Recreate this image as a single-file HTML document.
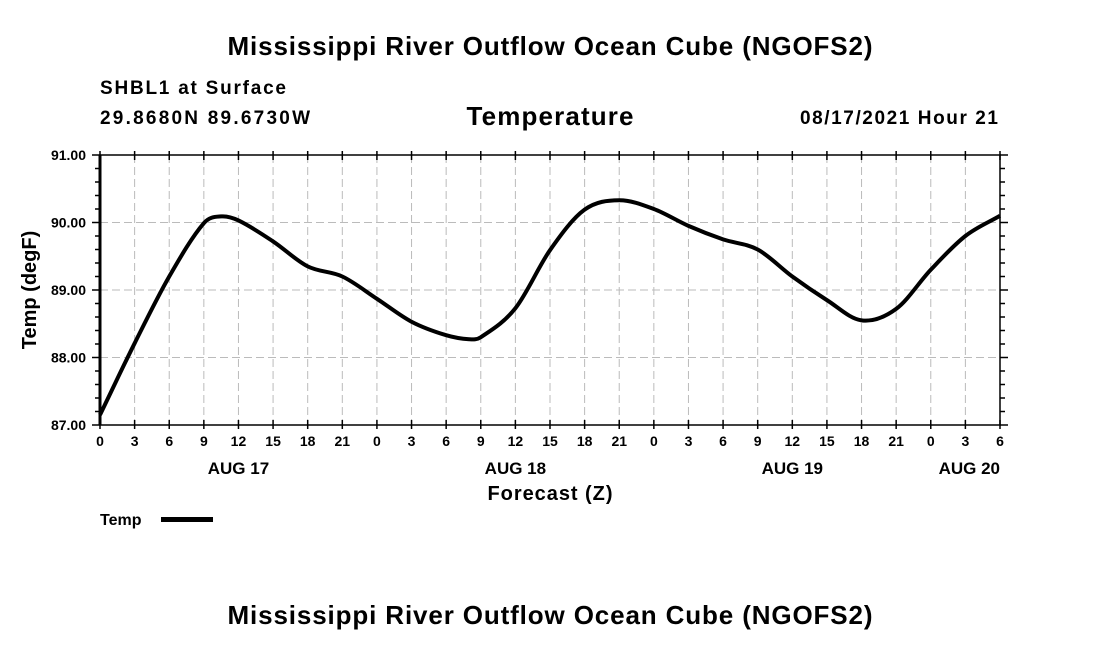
<!DOCTYPE html>
<html><head><meta charset="utf-8"><style>
body{margin:0;background:#fff;}
svg text{font-family:"Liberation Sans",Arial,sans-serif;fill:#000;font-weight:bold;}
</style></head><body>
<svg width="1100" height="650" viewBox="0 0 1100 650">
<text x="550" y="55" text-anchor="middle" font-size="26" textLength="645">Mississippi River Outflow Ocean Cube (NGOFS2)</text>
<text x="100" y="94" font-size="19" textLength="186">SHBL1 at Surface</text>
<text x="100" y="124" font-size="19" textLength="210">29.8680N  89.6730W</text>
<text x="550" y="125" text-anchor="middle" font-size="26" textLength="167">Temperature</text>
<text x="998" y="124" text-anchor="end" font-size="19" textLength="198">08/17/2021 Hour 21</text>
<g id="grid"></g>
<g id="axes"></g>
<path id="line" fill="none" stroke="#000" stroke-width="4" stroke-linejoin="round"/>
<text transform="translate(36,290) rotate(-90)" text-anchor="middle" font-size="20">Temp (degF)</text>
<text x="550" y="500" text-anchor="middle" font-size="20" textLength="125">Forecast (Z)</text>
<text x="100" y="525" font-size="16">Temp</text>
<rect x="161" y="517" width="52" height="5" fill="#000"/>
<text x="550" y="624" text-anchor="middle" font-size="26" textLength="645">Mississippi River Outflow Ocean Cube (NGOFS2)</text>
</svg>
<script>
const hours=[0,3,6,9,10.5,12,15,18,21,24,27,30,32,33,36,39,42,45,48,51,54,57,60,63,66,69,72,75,78];
const temps=[87.15,88.21,89.2,89.99,90.09,90.03,89.72,89.35,89.2,88.87,88.53,88.33,88.27,88.3,88.73,89.59,90.19,90.33,90.2,89.95,89.75,89.6,89.2,88.85,88.55,88.72,89.3,89.8,90.1];
const yTicks=[87,88,89,90,91];
const yTickLabels=["87.00","88.00","89.00","90.00","91.00"];
const xTickLabels=["0","3","6","9","12","15","18","21","0","3","6","9","12","15","18","21","0","3","6","9","12","15","18","21","0","3","6"];
const dayLabels=["AUG 17","AUG 18","AUG 19","AUG 20"];
const dayHours=[12,36,60,78];
const L=100,R=1000,T=155,B=425,H0=0,H1=78,Y0=87,Y1=91;
const sx=h=>L+(h-H0)/(H1-H0)*(R-L);
const sy=v=>B-(v-Y0)/(Y1-Y0)*(B-T);
const NS="http://www.w3.org/2000/svg";
const grid=document.getElementById('grid'),axes=document.getElementById('axes');
function mk(tag,at,parent){const e=document.createElementNS(NS,tag);for(const k in at)e.setAttribute(k,at[k]);parent.appendChild(e);return e;}
xTickLabels.forEach((lab,i)=>{const x=sx(i*3);
 if(i>0&&i<xTickLabels.length-1){const g=mk('line',{x1:x,x2:x,y1:T,y2:B,stroke:'#bbb','stroke-dasharray':'8,4'},grid);
 
 }
 mk('line',{x1:x,x2:x,y1:B+4,y2:B-5,stroke:'#000','stroke-width':1.5},axes);
 mk('line',{x1:x,x2:x,y1:T-4,y2:T+5,stroke:'#000','stroke-width':1.5},axes);
 const t=mk('text',{x:x,y:B+21,'text-anchor':'middle','font-size':14},axes);t.textContent=lab;
 
 
});
dayLabels.forEach((d,i)=>{const last=i===dayLabels.length-1;
 const t=mk('text',{x:last?R:sx(dayHours[i]),y:B+49,'text-anchor':last?'end':'middle','font-size':17},axes);t.textContent=d;
 
 });
yTicks.forEach((v,i)=>{const y=sy(v);
 if(i>0&&i<yTicks.length-1){const g=mk('line',{x1:L,x2:R,y1:y,y2:y,stroke:'#bbb','stroke-dasharray':'8,4'},grid);
 
 }
 const t=mk('text',{x:L-14,y:y+5,'text-anchor':'end','font-size':14},axes);t.textContent=yTickLabels[i];
 
 
});
for(let v=Y0;v<=Y1+1e-6;v+=0.2){const y=sy(v),w=Math.abs(v-Math.round(v))<1e-6?8:5;
 mk('line',{x1:L-w,x2:L,y1:y,y2:y,stroke:'#000','stroke-width':1.5},axes);
 mk('line',{x1:R,x2:R+w,y1:y,y2:y,stroke:'#000','stroke-width':1.5},axes);}
const fr=mk('rect',{x:L,y:T,width:R-L,height:B-T,fill:'none',stroke:'#000','stroke-width':1.5},axes);


mk('line',{x1:L,x2:L,y1:T,y2:B,stroke:'#000','stroke-width':3},axes);
// Hermite spline in function space (x = hours)
const n=hours.length,m=[];
for(let i=0;i<n;i++){const a=Math.max(0,i-1),b=Math.min(n-1,i+1);m.push((temps[b]-temps[a])/(hours[b]-hours[a]));}
let d='M'+sx(hours[0])+','+sy(temps[0]);
for(let i=0;i<n-1;i++){const dh=hours[i+1]-hours[i];
 d+=' C'+sx(hours[i]+dh/3)+','+sy(temps[i]+m[i]*dh/3)+' '+sx(hours[i+1]-dh/3)+','+sy(temps[i+1]-m[i+1]*dh/3)+' '+sx(hours[i+1])+','+sy(temps[i+1]);}
document.getElementById('line').setAttribute('d',d);
</script>
</body></html>
